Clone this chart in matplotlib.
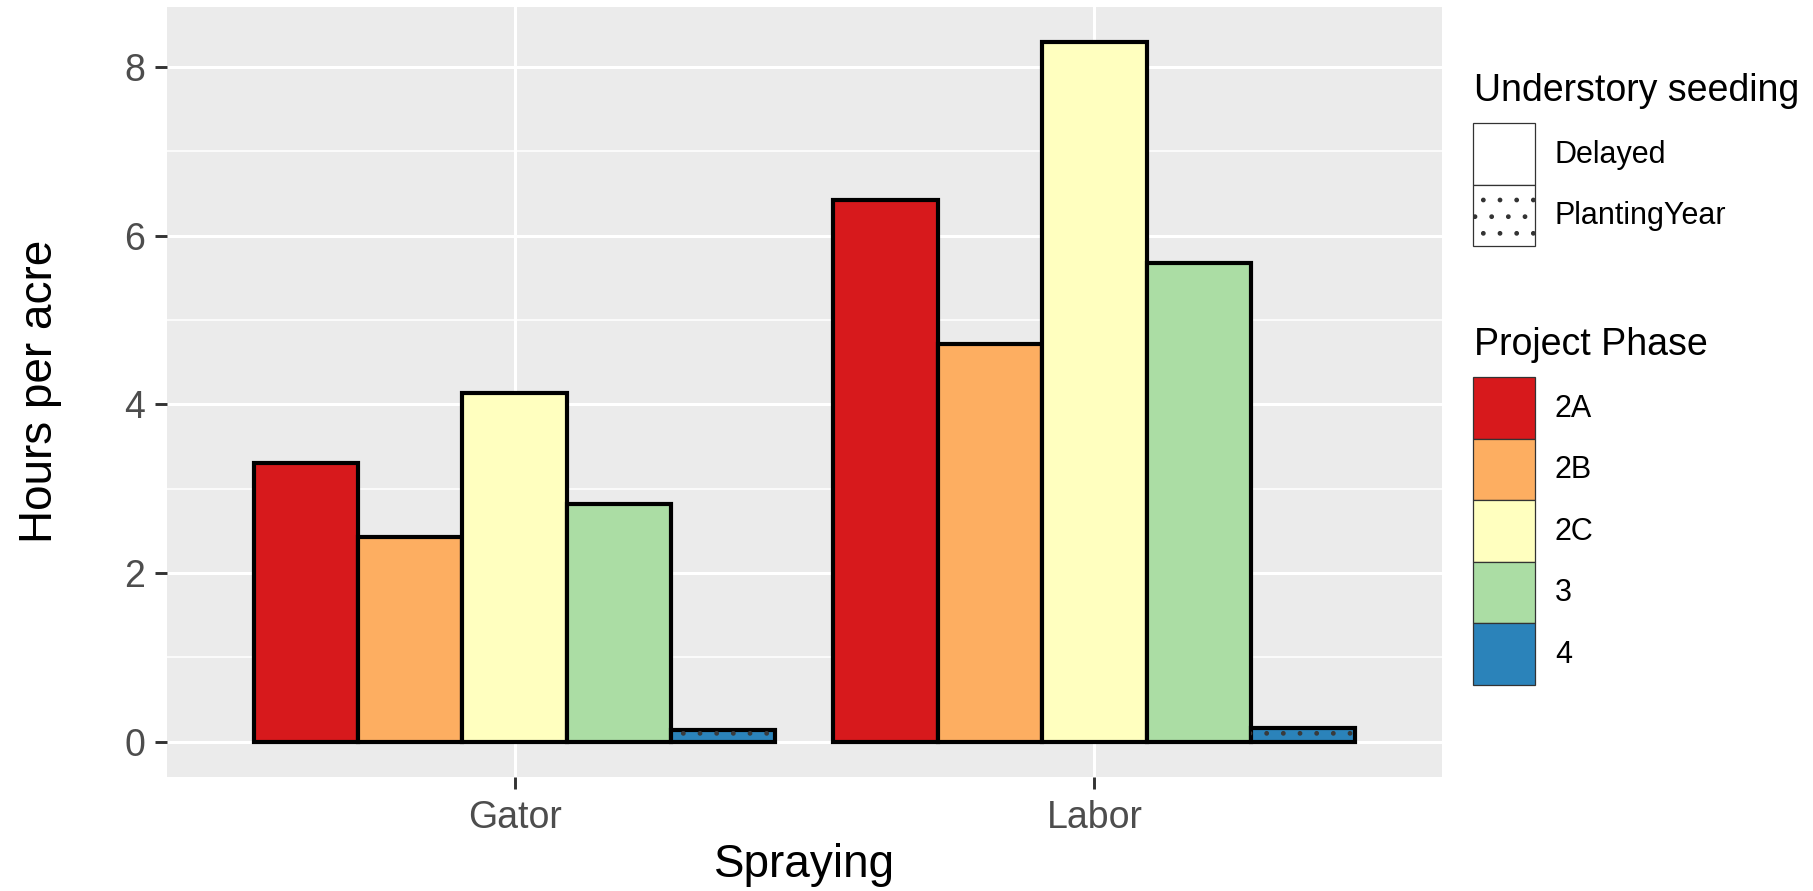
import numpy as np
import matplotlib
matplotlib.use("Agg")
import matplotlib.pyplot as plt
from matplotlib.patches import Patch

plt.rcParams["font.family"] = ["Liberation Sans", "DejaVu Sans"]
plt.rcParams["hatch.linewidth"] = 1.0

#%% data

tasks = ["Gator", "Labor"]
phases = ["2A", "2B", "2C", "3", "4"]
seeding = ["Delayed", "Delayed", "Delayed", "Delayed", "PlantingYear"]
gator_hours = [3.30, 2.43, 4.14, 2.82, 0.14]
labor_hours = [6.42, 4.72, 8.30, 5.68, 0.16]

phase_colors = ["#D7191C", "#FDAE61", "#FFFFBF", "#ABDDA4", "#2B83BA"]
seeding_hatch = {"Delayed": None, "PlantingYear": "."}

#%% plot

fig = plt.figure(figsize=(18.13, 8.91), dpi=100)
ax = fig.add_axes([0.0919, 0.1283, 0.7036, 0.8642])
ax.set_facecolor("#EBEBEB")
for s in ax.spines.values():
    s.set_visible(False)

x = np.arange(1, len(tasks) + 1)
width = 0.18
values = np.array([gator_hours, labor_hours])

for i, ph in enumerate(phases):
    xpos = x + (i - 2) * width
    ax.bar(xpos, values[:, i], width=width, color=phase_colors[i],
           edgecolor="black", linewidth=3.0, zorder=2)
    h = seeding_hatch[seeding[i]]
    if h:
        ax.bar(xpos, values[:, i], width=width, facecolor="none",
               edgecolor="#3a3a3a", linewidth=0, hatch=h, zorder=3)

ymax = values.max()
ax.set_ylim(-0.05 * ymax, ymax * 1.05)
ax.set_xlim(0.4, 2.6)
ax.set_xticks(x)
ax.set_xticklabels(tasks)
ax.set_yticks([0, 2, 4, 6, 8])
ax.set_yticks([1, 3, 5, 7], minor=True)

ax.grid(True, which="major", color="white", linewidth=2.2, zorder=0)
ax.grid(True, which="minor", axis="y", color="white", linewidth=1.1, zorder=0)
ax.set_axisbelow(True)

ax.tick_params(axis="both", which="major", length=8.5, width=2.1,
               color="#333333", labelcolor="#4D4D4D", labelsize=27)
ax.tick_params(axis="y", which="major", pad=7)
ax.tick_params(axis="x", which="major", pad=8)
ax.tick_params(axis="y", which="minor", length=0)

ax.set_xlabel("Spraying", fontsize=33)
ax.set_ylabel("Hours per acre", fontsize=33)
ax.xaxis.set_label_coords(0.5, -0.1147)
ax.xaxis.label.set_verticalalignment("center")
ax.yaxis.set_label_coords(-0.0993, 0.5)
ax.yaxis.label.set_verticalalignment("center")

#%% legends

W, H = 1813.0, 891.0
fs = 22
fs_px = fs * 100 / 72.0
hl = 62 / fs_px
# legend handles lose a descent of 0.35*fs*(hh-0.7) in height
hh = (61.5 / fs_px - 0.245) / 0.65

fig.text(1474 / W, 1 - 101 / H, "Understory seeding", fontsize=27,
         va="baseline", ha="left")
seed_handles = [Patch(facecolor="white", edgecolor="#333333", linewidth=0.9),
                Patch(facecolor="white", edgecolor="#333333", linewidth=0.9,
                      hatch=".")]
leg1 = fig.legend(seed_handles, ["Delayed", "PlantingYear"],
                  loc="upper left", bbox_to_anchor=(1473 / W, 1 - 123 / H),
                  frameon=False, fontsize=fs, borderpad=0, borderaxespad=0,
                  labelspacing=0, handlelength=hl, handleheight=hh,
                  handletextpad=0.65)

fig.text(1474 / W, 1 - 355 / H, "Project Phase", fontsize=27,
         va="baseline", ha="left")
phase_handles = [Patch(facecolor=c, edgecolor="#333333", linewidth=0.9)
                 for c in phase_colors]
leg2 = fig.legend(phase_handles, phases,
                  loc="upper left", bbox_to_anchor=(1473 / W, 1 - 377 / H),
                  frameon=False, fontsize=fs, borderpad=0, borderaxespad=0,
                  labelspacing=0, handlelength=hl, handleheight=hh,
                  handletextpad=0.65)

fig.savefig("out.png", dpi=100)
